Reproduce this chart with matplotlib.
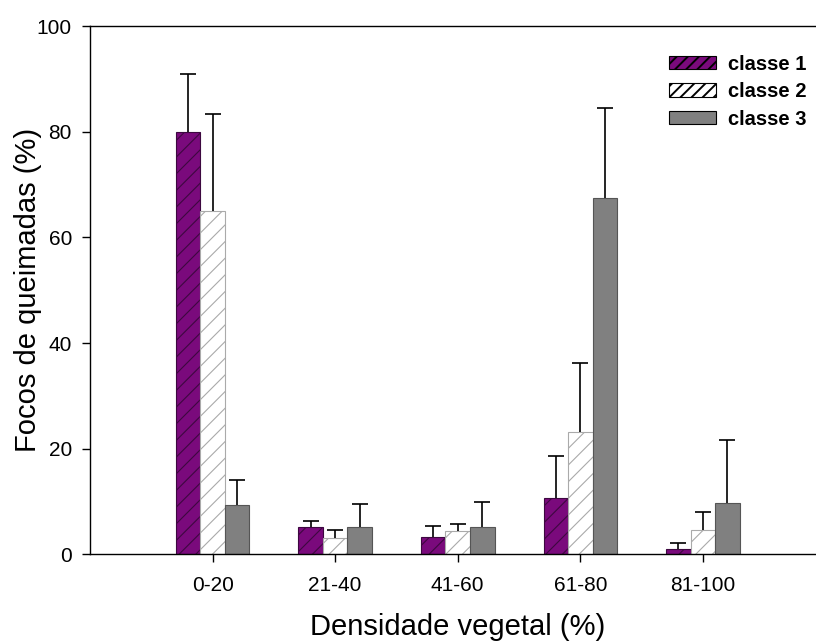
import matplotlib
matplotlib.use('Agg')
import matplotlib.pyplot as plt
import numpy as np
from matplotlib.patches import Patch

plt.rcParams['font.family'] = ['Liberation Sans', 'DejaVu Sans']
plt.rcParams['hatch.linewidth'] = 0.8

# Dados
categorias = ['0-20', '21-40', '41-60', '61-80', '81-100']
classe1 = [80.0, 5.1, 3.3, 10.7, 1.0]
classe2 = [65.0, 3.0, 4.4, 23.1, 4.5]
classe3 = [9.2, 5.1, 5.2, 67.4, 9.6]
erro1 = [11.0, 1.2, 2.1, 7.9, 1.0]
erro2 = [18.4, 1.5, 1.3, 13.2, 3.5]
erro3 = [4.8, 4.4, 4.6, 17.1, 12.0]

x = np.arange(len(categorias))
largura = 0.2

fig = plt.figure(figsize=(8.16, 6.43), dpi=100)
ax = fig.add_axes([0.1103, 0.1384, 0.9013, 0.8204])

err_kw = dict(ecolor='black', elinewidth=1.2, capsize=6, capthick=1.2)

series = [
    (x - largura, classe1, erro1, dict(color='#7a0a7c', edgecolor='#3d0840', hatch='//')),
    (x, classe2, erro2, dict(color='white', edgecolor='#aaaaaa', hatch='//')),
    (x + largura, classe3, erro3, dict(color='#808080', edgecolor='#555555')),
]
for pos, vals, err, estilo in series:
    barras = ax.bar(pos, vals, largura, linewidth=0.8, yerr=[np.zeros(len(vals)), err],
                    error_kw=err_kw, zorder=2, **estilo)
    # so barra de erro superior: esconder o cap inferior
    barras.errorbar.lines[1][0].set_visible(False)

ax.set_xlim(-1, 5)
ax.set_ylim(0, 100)
ax.set_xticks(x)
ax.set_xticklabels(categorias)
ax.set_yticks([0, 20, 40, 60, 80, 100])
ax.tick_params(axis='both', direction='out', length=6, width=1.0, labelsize=15)
ax.tick_params(axis='y', pad=7)
ax.tick_params(axis='x', pad=10)

for s in ax.spines.values():
    s.set_linewidth(1.0)

ax.set_xlabel('Densidade vegetal (%)', fontsize=21)
ax.set_ylabel('Focos de queimadas (%)', fontsize=21)
ax.xaxis.set_label_coords(0.5, -0.112)
ax.yaxis.set_label_coords(-0.065, 0.5)

# Legenda com as cores do original
with plt.rc_context({'hatch.linewidth': 1.4}):
    handles = [
        Patch(facecolor='#7a0a7c', edgecolor='black', hatch='///', linewidth=0.8, label='classe 1'),
        Patch(facecolor='white', edgecolor='black', hatch='///', linewidth=0.8, label='classe 2'),
        Patch(facecolor='#808080', edgecolor='black', linewidth=0.8, label='classe 3'),
    ]
    fig.legend(handles=handles, loc='upper left', bbox_to_anchor=(0.8199, 0.915),
               frameon=False, prop={'weight': 'bold', 'size': 14.5},
               borderpad=0, borderaxespad=0,
               handlelength=2.33, handleheight=0.66, labelspacing=0.42, handletextpad=0.6)

plt.savefig('out.png', dpi=100)
